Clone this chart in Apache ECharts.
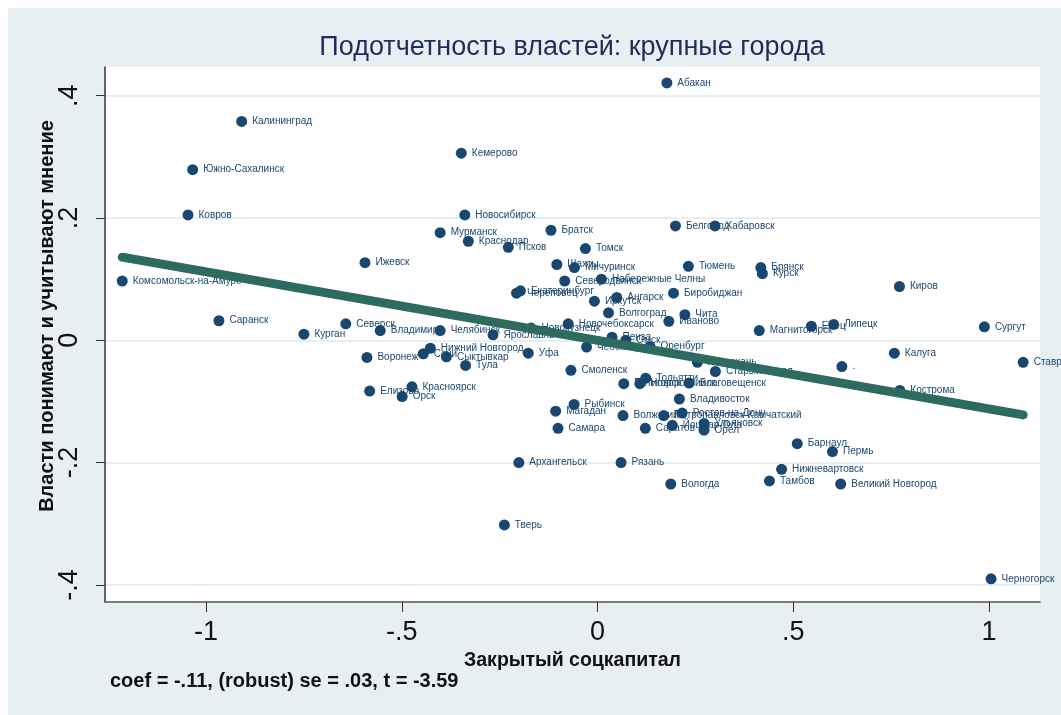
<!DOCTYPE html>
<html lang="ru">
<head>
<meta charset="UTF-8">
<title>Подотчетность властей</title>
<script src="https://cdn.jsdelivr.net/npm/echarts@6/dist/echarts.min.js"></script>
<style>
  html, body { margin: 0; padding: 0; background: #fff; }
  #chart { width: 1061px; height: 715px; }
</style>
</head>
<body>
<div id="chart"></div>
<script>
// города и значения (остатки: соцкапитал по x, оценка власти по y)
var cities = ['Абакан','Калининград','Кемерово','Южно-Сахалинск','Ковров','Новосибирск','Мурманск','Краснодар','Псков','Братск',
  'Томск','Белгород','Хабаровск','Шахты','Мичуринск','Тюмень','Брянск','Курск','Ижевск','Комсомольск-на-Амуре',
  'Северодвинск','Набережные Челны','Киров','Череповец','Екатеринбург','Биробиджан','Иркутск','Ангарск','Волгоград','Чита',
  'Иваново','Новочебоксарск','Саранск','Северск','Курган','Владимир','Челябинск','Ярославль','Новокузнецк','Пенза',
  'Омск','Магнитогорск','Елец','Липецк','Сургут','Нижний Новгород','Сочи','Сыктывкар','Воронеж','Тула',
  'Уфа','Чебоксары','Оренбург','Смоленск','Калуга','.','Ставрополь','Астрахань','Старый Оскол','Тольятти',
  'Пятигорск','Новороссийск','Благовещенск','Кострома','Елизово','Красноярск','Орск','Владивосток','Рыбинск','Магадан',
  'Волжский','Петропавловск-Камчатский','Ростов-на-Дону','Самара','Саратов','Йошкар-Ола','Ульяновск','Орел','Барнаул','Пермь',
  'Рязань','Архангельск','Нижневартовск','Тамбов','Вологда','Великий Новгород','Тверь','Черногорск'];
var socCapital = [0.177,-0.909,-0.348,-1.034,-1.046,-0.339,-0.402,-0.330,-0.228,-0.119,
  -0.031,0.199,0.300,-0.104,-0.059,0.232,0.417,0.421,-0.594,-1.214,
  -0.084,0.010,0.771,-0.207,-0.197,0.194,-0.008,0.049,0.028,0.223,
  0.182,-0.075,-0.967,-0.643,-0.750,-0.555,-0.402,-0.267,-0.170,0.037,
  0.072,0.413,0.546,0.603,0.988,-0.427,-0.445,-0.386,-0.589,-0.337,
  -0.177,-0.028,0.134,-0.068,0.758,0.624,1.087,0.255,0.301,0.123,
  0.067,0.108,0.234,0.772,-0.582,-0.474,-0.499,0.209,-0.060,-0.107,
  0.065,0.169,0.216,-0.101,0.122,0.191,0.272,0.272,0.510,0.600,
  0.060,-0.201,0.470,0.439,0.187,0.621,-0.238,1.005];
var opinion = [0.421,0.358,0.306,0.279,0.205,0.205,0.176,0.162,0.152,0.180,
  0.150,0.187,0.187,0.124,0.119,0.121,0.119,0.109,0.127,0.097,
  0.097,0.100,0.088,0.077,0.081,0.077,0.064,0.070,0.045,0.042,
  0.031,0.027,0.032,0.027,0.010,0.016,0.016,0.009,0.020,0.005,
  0.000,0.016,0.023,0.026,0.022,-0.013,-0.022,-0.027,-0.028,-0.041,
  -0.021,-0.011,-0.010,-0.049,-0.021,-0.043,-0.036,-0.036,-0.051,-0.062,
  -0.071,-0.071,-0.070,-0.082,-0.083,-0.076,-0.092,-0.096,-0.105,-0.116,
  -0.123,-0.123,-0.119,-0.144,-0.144,-0.139,-0.136,-0.147,-0.169,-0.182,
  -0.200,-0.200,-0.211,-0.230,-0.235,-0.235,-0.302,-0.390];
// линия регрессии (концы)
var fitX = [-1.214, 1.087];
var fitY = [0.136, -0.122];
var xTicks = [-1, -0.5, 0, 0.5, 1];
var yTicks = [-0.4, -0.2, 0, 0.2, 0.4];

var navy = '#1a476f';
var font = "'Liberation Sans', Arial, sans-serif";

function stataNum(v) {
  var s = String(Math.round(v * 10) / 10);
  return s.replace(/^(-?)0\./, '$1.');
}

var points = [];
for (var i = 0; i < cities.length; i++) {
  points.push({ name: cities[i], value: [socCapital[i], opinion[i]] });
}
var fitLine = [];
for (var j = 0; j < fitX.length; j++) fitLine.push([fitX[j], fitY[j]]);

var myChart = echarts.init(document.getElementById('chart'));
var option = {
  backgroundColor: '#e8eff2',
  animation: false,
  grid: {
    left: 105, right: 21, top: 67, bottom: 113,
    show: true, backgroundColor: '#ffffff', borderWidth: 0
  },
  graphic: [
    { type: 'rect', shape: { x: 0, y: 0, width: 1061, height: 8 }, style: { fill: '#fff' }, silent: true },
    { type: 'rect', shape: { x: 0, y: 0, width: 8, height: 715 }, style: { fill: '#fff' }, silent: true },
    { type: 'text', x: 572, y: 48, style: {
        text: 'Подотчетность властей: крупные города', fill: '#1e2d5a',
        font: "27px " + font, align: 'center', verticalAlign: 'middle' } },
    // подпись оси y отдельно, чтобы поставить как в оригинале
    { type: 'text', x: 47, y: 316, rotation: Math.PI / 2, style: {
        text: 'Власти понимают и учитывают мнение', fill: '#111',
        font: "bold 20px " + font, align: 'center', verticalAlign: 'middle' } },
    { type: 'text', x: 110, y: 681, style: {
        text: 'coef = -.11, (robust) se = .03, t = -3.59', fill: '#111',
        font: "bold 20px " + font, align: 'left', verticalAlign: 'middle' } }
  ],
  xAxis: {
    type: 'value', min: -1.258, max: 1.13,
    name: 'Закрытый соцкапитал', nameLocation: 'middle', nameGap: 38,
    nameTextStyle: { color: '#111', fontSize: 19.5, fontWeight: 'bold', fontFamily: font },
    axisLine: { show: true, onZero: false, lineStyle: { color: '#555', width: 1.5 } },
    axisTick: { show: true, length: 10, customValues: xTicks, lineStyle: { color: '#333' } },
    axisLabel: { customValues: xTicks, margin: 17, fontSize: 27, color: '#111', fontFamily: font, formatter: stataNum },
    splitLine: { show: false }
  },
  yAxis: {
    type: 'value', min: -0.428, max: 0.447,
    axisLine: { show: true, onZero: false, lineStyle: { color: '#333', width: 1.5 } },
    axisTick: { show: true, length: 9, customValues: yTicks, lineStyle: { color: '#333' } },
    axisLabel: { customValues: yTicks, rotate: 90, margin: 22, fontSize: 27, color: '#111', fontFamily: font, formatter: stataNum },
    splitLine: { show: true, lineStyle: { color: '#e8eff2', width: 2 } }
  },
  series: [
    {
      type: 'scatter', z: 2,
      data: points,
      symbolSize: 11,
      itemStyle: { color: navy, opacity: 1 },
      label: {
        show: true, position: 'right', distance: 5,
        formatter: '{b}', color: navy, fontSize: 10, fontFamily: font
      }
    },
    {
      type: 'line', z: 5,
      data: fitLine,
      symbol: 'none', silent: true,
      lineStyle: { color: '#2d6b5e', width: 9, cap: 'round' }
    }
  ]
};
myChart.setOption(option);
</script>
</body>
</html>
